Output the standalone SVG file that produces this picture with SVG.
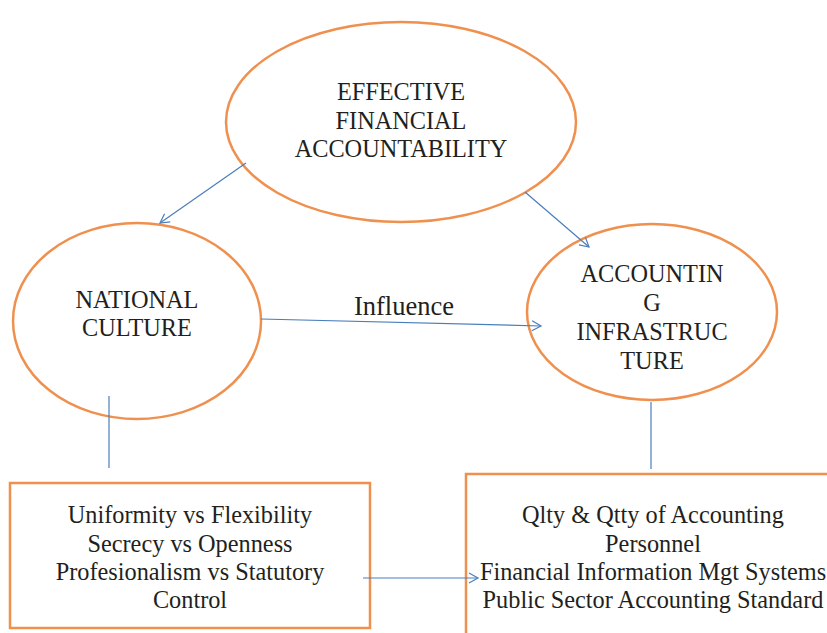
<svg xmlns="http://www.w3.org/2000/svg" width="827" height="633" viewBox="0 0 827 633">
<style>
.n{fill:#fff;stroke:#F0904E;stroke-width:2.5}
text{font-family:'Liberation Serif','Times New Roman',serif;font-size:24.3px;fill:#231F20;text-anchor:middle}
.c{stroke:#4A7EBB;stroke-width:1.2;fill:none}
</style>
<defs>
<marker id="a" markerWidth="12" markerHeight="12" refX="10" refY="6" orient="auto" markerUnits="userSpaceOnUse">
<path d="M1,1 L10,6 L1,11" fill="none" stroke="#4A7EBB" stroke-width="1.2"/>
</marker>
</defs>
<rect width="827" height="633" fill="#fff"/>
<g id="n1"><ellipse class="n" cx="401" cy="122" rx="175" ry="100"/>
<text x="401" y="100">EFFECTIVE</text><text x="401" y="129">FINANCIAL</text><text x="401" y="157">ACCOUNTABILITY</text></g>
<g id="n2"><ellipse class="n" cx="137" cy="321" rx="124" ry="98"/>
<text x="137" y="308">NATIONAL</text><text x="137" y="336">CULTURE</text></g>
<g id="n3"><ellipse class="n" cx="652" cy="312" rx="125" ry="88"/>
<text x="652" y="282">ACCOUNTIN</text><text x="652" y="311">G</text><text x="652" y="340">INFRASTRUC</text><text x="652" y="369">TURE</text></g>
<g id="n4"><rect class="n" x="10" y="483" width="360" height="145"/>
<text x="190" y="523">Uniformity vs Flexibility</text><text x="190" y="552">Secrecy vs Openness</text><text x="190" y="580">Profesionalism vs Statutory</text><text x="190" y="608">Control</text></g>
<g id="n5"><rect class="n" x="466" y="474" width="380" height="180"/>
<text x="653" y="523">Qlty &amp; Qtty of Accounting</text><text x="653" y="552">Personnel</text><text x="653" y="580">Financial Information Mgt Systems</text><text x="653" y="608">Public Sector Accounting Standard</text></g>
<g id="connectors">
<line class="c" x1="246" y1="163" x2="160" y2="223" marker-end="url(#a)"/>
<line class="c" x1="525" y1="192" x2="589" y2="247" marker-end="url(#a)"/>
<line class="c" x1="261" y1="319" x2="541" y2="326" marker-end="url(#a)"/>
<line class="c" x1="363" y1="578" x2="478" y2="578" marker-end="url(#a)"/>
<line class="c" x1="109" y1="396" x2="109" y2="468"/>
<line class="c" x1="651" y1="402" x2="651" y2="469"/>
<text x="404" y="315" style="font-size:26.5px">Influence</text>
</g>
</svg>
